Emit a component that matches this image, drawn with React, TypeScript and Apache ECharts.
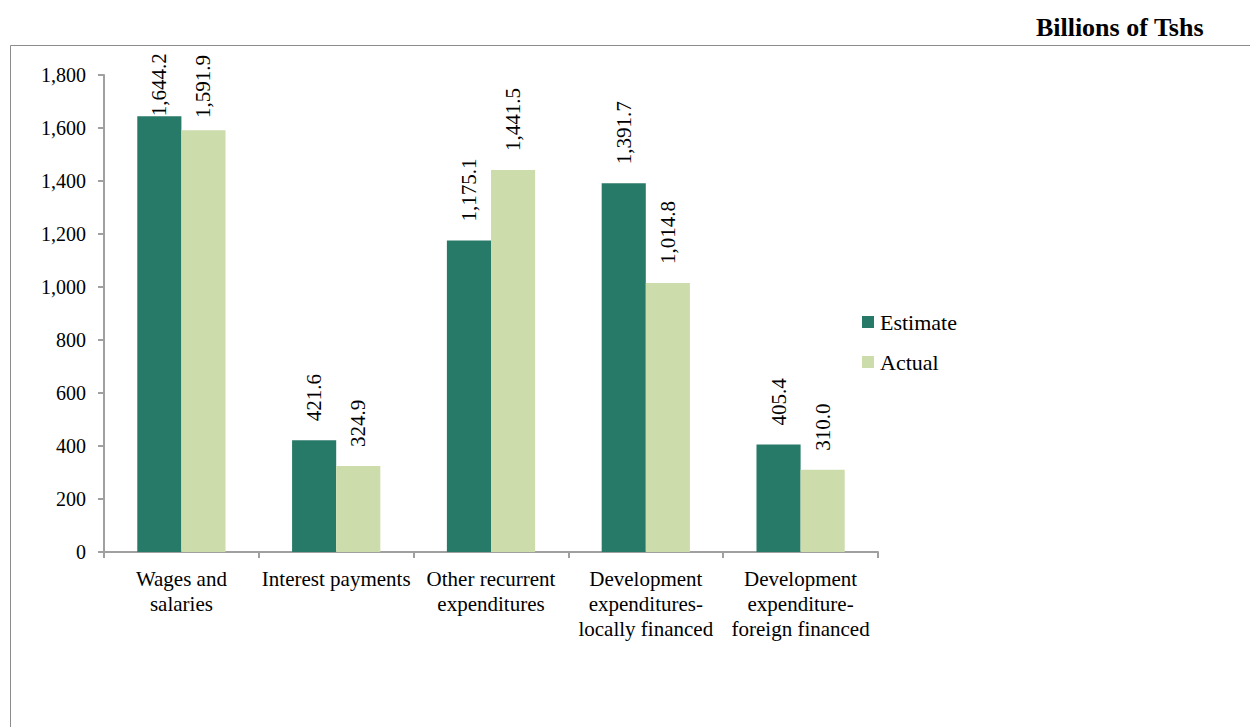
import React, { useEffect, useRef } from "react";
import * as echarts from "echarts";

const categories = [
  "Wages and\nsalaries",
  "Interest payments",
  "Other recurrent\nexpenditures",
  "Development\nexpenditures-\nlocally financed",
  "Development\nexpenditure-\nforeign financed",
];
const estimate = [1644.2, 421.6, 1175.1, 1391.7, 405.4];
const actual = [1591.9, 324.9, 1441.5, 1014.8, 310.0];
const seriesNames = ["Estimate", "Actual"];
const unitLabel = "Billions of Tshs";

const FONT = "'Liberation Serif', 'Times New Roman', serif";
const LABEL_SIZE = 21;
const fmt = (v: number) =>
  v.toLocaleString("en-US", { minimumFractionDigits: 1, maximumFractionDigits: 1 });

export default function App() {
  const ref = useRef<HTMLDivElement>(null);
  useEffect(() => {
    const chart = echarts.init(ref.current!, undefined, { renderer: "svg" });
    const label = {
      show: true,
      position: "top" as const,
      rotate: 90,
      align: "left" as const,
      verticalAlign: "middle" as const,
      distance: 19,
      fontFamily: FONT,
      fontSize: LABEL_SIZE,
      color: "#000",
      formatter: (p: any) => fmt(p.value),
    };
    chart.setOption({
      animation: false,
      backgroundColor: "#fff",
      textStyle: { fontFamily: FONT },
      graphic: [
        {
          type: "rect",
          shape: { x: 10.5, y: 45.5, width: 1300, height: 800 },
          style: { fill: "none", stroke: "#8c8c8c", lineWidth: 1 },
          silent: true,
        },
        {
          type: "text",
          right: 46,
          top: 14,
          style: {
            text: unitLabel,
            font: `bold 26px ${FONT}`,
            fill: "#000",
          },
        },
      ],
      grid: { left: 104, right: 372, top: 75, bottom: 175, containLabel: false },
      legend: {
        orient: "vertical",
        left: 857,
        top: 306,
        itemWidth: 12,
        itemHeight: 12,
        itemGap: 18,
        icon: "rect",
        textStyle: { fontFamily: FONT, fontSize: 22, color: "#000", padding: [0, 0, 0, 1] },
        data: seriesNames,
      },
      xAxis: {
        type: "category",
        data: categories,
        axisLine: { lineStyle: { color: "#a0a0a0", width: 2 } },
        axisTick: { show: true, length: 6, lineStyle: { color: "#a0a0a0", width: 2 } },
        axisLabel: {
          fontFamily: FONT,
          fontSize: 21,
          color: "#000",
          lineHeight: 25,
          margin: 14,
          interval: 0,
        },
      },
      yAxis: {
        type: "value",
        min: 0,
        max: 1800,
        interval: 200,
        axisLine: { show: true, lineStyle: { color: "#a0a0a0", width: 2 } },
        axisTick: { show: true, length: 6, lineStyle: { color: "#a0a0a0", width: 2 } },
        splitLine: { show: false },
        axisLabel: {
          fontFamily: FONT,
          fontSize: 20,
          color: "#000",
          margin: 18,
          formatter: (v: number) => v.toLocaleString("en-US"),
        },
      },
      series: [
        {
          name: seriesNames[0],
          type: "bar",
          data: estimate,
          itemStyle: { color: "#287a68" },
          barGap: "0%",
          barCategoryGap: "43%",
          label,
        },
        {
          name: seriesNames[1],
          type: "bar",
          data: actual,
          itemStyle: { color: "#cddcab" },
          barGap: "0%",
          barCategoryGap: "43%",
          label,
        },
      ],
    });

    // Keep value labels inside the chart frame (like the source's label placement)
    const ctx = document.createElement("canvas").getContext("2d")!;
    ctx.font = `${LABEL_SIZE}px ${FONT}`;
    const topLimit = 55;
    const fit = (vals: number[]) =>
      vals.map((v, j) => {
        const y = (chart.convertToPixel({ gridIndex: 0 }, [j, v]) as number[])[1];
        const len = ctx.measureText(fmt(v)).width;
        const d = Math.max(0, Math.min(19, y - len - topLimit));
        return { value: v, label: { distance: d } };
      });
    chart.setOption({
      series: [{ data: fit(estimate) }, { data: fit(actual) }],
    });
    return () => chart.dispose();
  }, []);
  return (
    <div
      ref={ref}
      style={{ position: "fixed", left: 0, top: 0, width: 1250, height: 727 }}
    />
  );
}
